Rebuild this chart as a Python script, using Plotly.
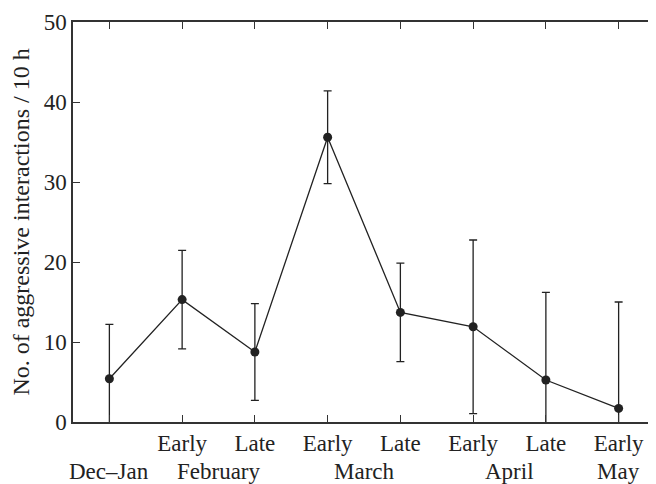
import plotly.graph_objects as go

# Data
periods = ["Dec–Jan", "Early Feb", "Late Feb", "Early Mar", "Late Mar", "Early Apr", "Late Apr", "Early May"]
period_ticks = ["", "Early", "Late", "Early", "Late", "Early", "Late", "Early"]
months = ["Dec–Jan", "February", "March", "April", "May"]
month_members = [[1], [2, 3], [4, 5], [6, 7], [8]]
mean_rate = [5.4, 15.3, 8.75, 35.6, 13.7, 11.9, 5.25, 1.7]
sd_rate = [6.8, 6.15, 6.05, 5.8, 6.15, 10.85, 10.95, 13.3]
y_ticks = [0, 10, 20, 30, 40, 50]

xs = list(range(1, len(periods) + 1))
ink = "#222222"
font_family = "Liberation Serif, Times New Roman, serif"
fs = 23

fig = go.Figure()
fig.add_trace(go.Scatter(
    x=xs, y=mean_rate, mode="lines+markers",
    line=dict(color=ink, width=1.3),
    marker=dict(color=ink, size=9),
    error_y=dict(type="data", array=sd_rate, visible=True, color=ink, thickness=1.3, width=4),
    showlegend=False, hoverinfo="skip",
))

for name, members in zip(months, month_members):
    fig.add_annotation(
        x=sum(members) / len(members), y=0, xref="x", yref="paper",
        yanchor="top", yshift=-36, text=name, showarrow=False,
        font=dict(family=font_family, size=fs, color=ink),
        borderpad=0,
    )

axis_common = dict(
    showline=True, linecolor="#333333", linewidth=1.5, mirror="ticks",
    ticks="inside", ticklen=7, tickwidth=1.3, tickcolor="#333333",
    showgrid=False, zeroline=False, automargin=False,
    tickfont=dict(family=font_family, size=fs, color=ink),
)

# The page body has an 8px margin, so the figure is sized/margined to land
# the plot area at the reference position inside the 656x484 window.
fig.update_layout(
    width=648, height=476,
    margin=dict(l=65, r=1, t=14, b=62),
    paper_bgcolor="white", plot_bgcolor="white",
    xaxis=dict(range=[0.5, 8.5], tickvals=xs, ticktext=period_ticks, **axis_common),
    yaxis=dict(range=[0, 50], tickvals=y_ticks,
               title=dict(text="No. of aggressive interactions / 10 h",
                          font=dict(family=font_family, size=24, color=ink), standoff=10),
               **axis_common),
)

fig.write_html("out.html")
